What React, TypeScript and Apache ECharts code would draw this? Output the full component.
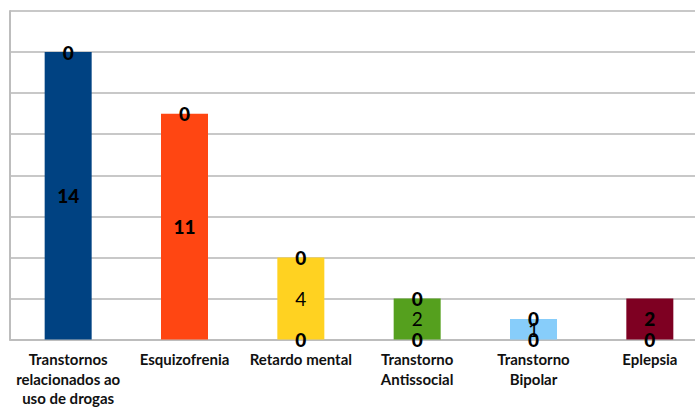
import React, { useEffect, useRef } from "react";
import * as echarts from "echarts";

const categories = [
  "Transtornos\nrelacionados ao\nuso de drogas",
  "Esquizofrenia",
  "Retardo mental",
  "Transtorno\nAntissocial",
  "Transtorno\nBipolar",
  "Eplepsia",
];
const values = [14, 11, 4, 2, 1, 2];
const topZeros: (number | string)[] = [0, 0, 0, 0, 0, "-"];
const bottomZeros: (number | string)[] = ["-", "-", 0, 0, 0, 0];
const boldValue = [true, true, false, false, false, true];

const BAR_COLORS = ["#004282", "#FF4612", "#FFD221", "#55A01E", "#87CDFA", "#7E0022"];
const FONT = "Lato, 'Open Sans', sans-serif";

export default function App() {
  const ref = useRef<HTMLDivElement>(null);
  useEffect(() => {
    if (!ref.current) return;
    const chart = echarts.init(ref.current, undefined, { renderer: "svg" });
    const zeroLabel = {
      show: true,
      position: "inside",
      formatter: "0",
      color: "#000",
      fontFamily: FONT,
      fontWeight: 900,
      fontSize: 19,
    };
    chart.setOption({
      animation: false,
      backgroundColor: "#fff",
      grid: { left: 10, top: 11, bottom: 58, right: 4 },
      xAxis: {
        type: "category",
        data: categories,
        axisLine: { show: true, lineStyle: { color: "#bdbdbd", width: 2 } },
        axisTick: { show: false },
        axisLabel: {
          interval: 0,
          margin: 10,
          color: "#111",
          fontFamily: FONT,
          fontWeight: "bold",
          fontSize: 15,
          lineHeight: 19.5,
        },
      },
      yAxis: {
        type: "value",
        min: 0,
        max: 16,
        interval: 2,
        axisLabel: { show: false },
        axisTick: { show: false },
        axisLine: { show: true, lineStyle: { color: "#bdbdbd", width: 2 } },
        splitLine: { lineStyle: { color: "#c8c8c8", width: 2 } },
      },
      series: [
        {
          type: "bar",
          stack: "s",
          barWidth: 47,
          data: bottomZeros,
          itemStyle: { color: "transparent" },
          label: zeroLabel,
          z: 3,
        },
        {
          type: "bar",
          stack: "s",
          barWidth: 47,
          data: values.map((v, i) => ({
            value: v,
            itemStyle: { color: BAR_COLORS[i] },
            label: { fontWeight: boldValue[i] ? 900 : "normal" },
          })),
          label: {
            show: true,
            position: "inside",
            color: "#000",
            fontFamily: FONT,
            fontSize: 19,
          },
          z: 2,
        },
        {
          type: "bar",
          stack: "s",
          barWidth: 47,
          data: topZeros,
          itemStyle: { color: "transparent" },
          label: zeroLabel,
          z: 3,
        },
      ],
    });
    return () => chart.dispose();
  }, []);
  return (
    <div style={{ position: "fixed", left: 0, top: 0, width: 695, height: 408, overflow: "hidden", background: "#fff" }}>
      <div ref={ref} style={{ width: 712, height: 408 }} />
    </div>
  );
}
